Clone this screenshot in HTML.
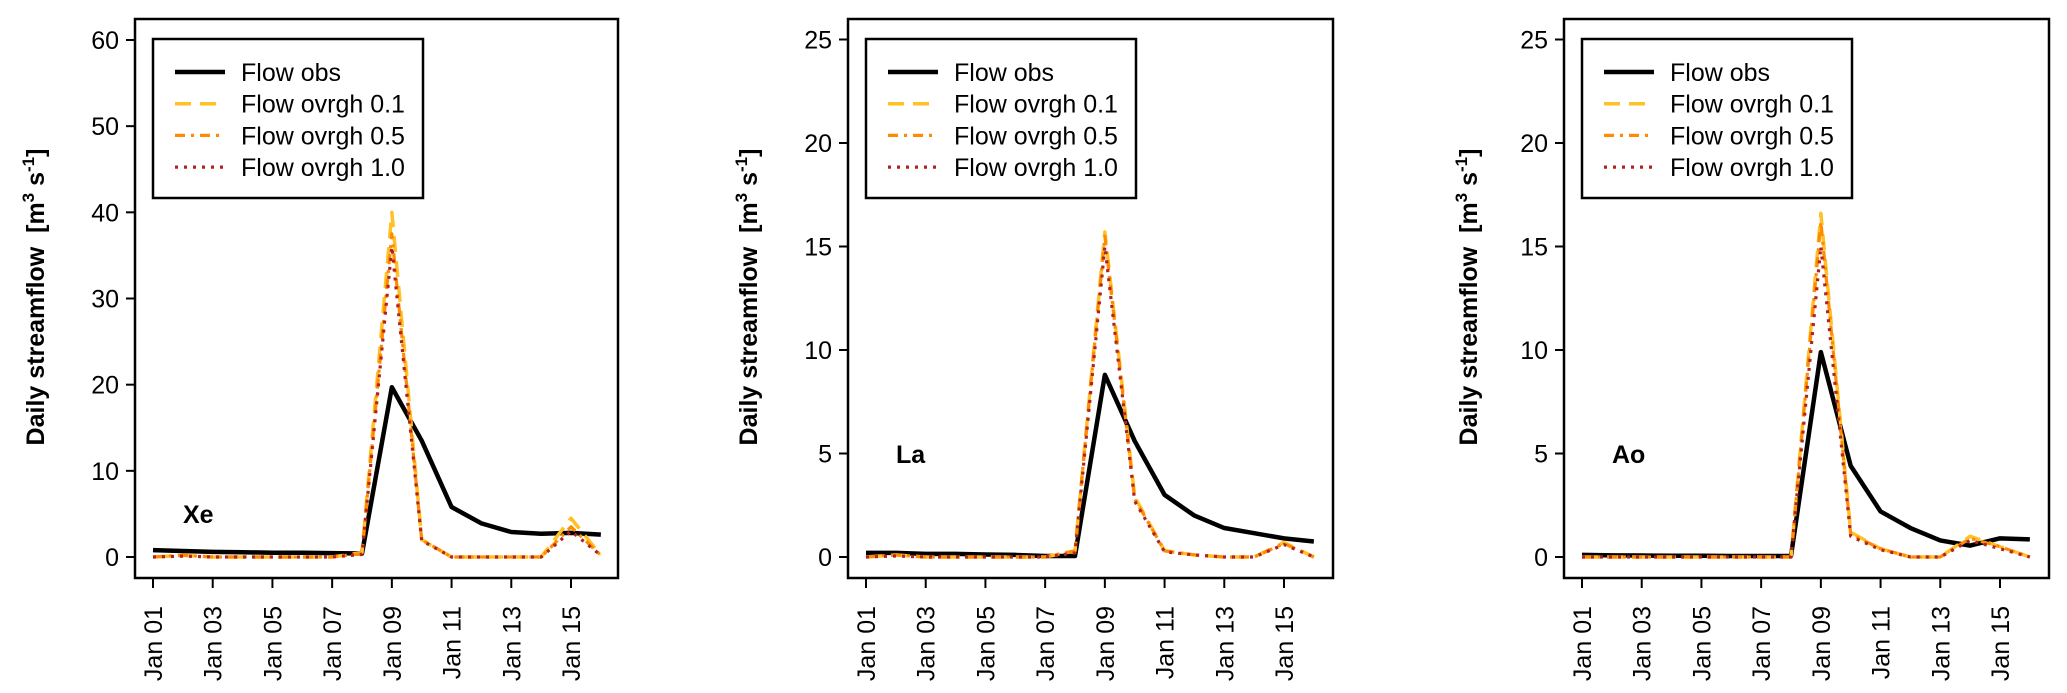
<!DOCTYPE html>
<html><head><meta charset="utf-8"><style>
html,body{margin:0;padding:0;background:#fff;}
svg{display:block;font-family:"Liberation Sans",Arial,sans-serif;}
</style></head><body>
<svg id="fig" width="2067" height="693" viewBox="0 0 2067 693" xmlns="http://www.w3.org/2000/svg"></svg>
<script>
const dayLabels = ["Jan 01","Jan 03","Jan 05","Jan 07","Jan 09","Jan 11","Jan 13","Jan 15"];
const days = [1,2,3,4,5,6,7,8,9,10,11,12,13,14,15,16];
const xeObs = [0.8,0.7,0.6,0.55,0.5,0.5,0.45,0.4,19.7,13.5,5.8,3.9,2.9,2.7,2.8,2.6];
const xeS01 = [0,0.2,0,0,0,0,0,0.5,40,2,0,0,0,0,4.5,0.2];
const xeS05 = [0,0.2,0,0,0,0,0,0.4,37.5,2,0,0,0,0,3.5,0.2];
const xeS10 = [0,0.1,0,0,0,0,0,0.3,36,1.9,0,0,0,0,3.0,0.2];
const laObs = [0.2,0.2,0.15,0.15,0.12,0.1,0.05,0.05,8.8,5.6,3.0,2.0,1.4,1.15,0.9,0.75];
const laS01 = [0,0.1,0,0,0,0,0,0.3,15.7,2.9,0.3,0.1,0,0,0.7,0];
const laS05 = [0,0.1,0,0,0,0,0,0.3,15.5,2.8,0.3,0.1,0,0,0.65,0];
const laS10 = [0,0.05,0,0,0,0,0,0.2,15.0,2.7,0.25,0.1,0,0,0.6,0];
const aoObs = [0.1,0.08,0.07,0.06,0.06,0.05,0.05,0.05,9.9,4.4,2.2,1.4,0.8,0.55,0.9,0.85];
const aoS01 = [0,0,0,0,0,0,0,0,16.6,1.2,0.4,0,0,1.0,0.5,0];
const aoS05 = [0,0,0,0,0,0,0,0,16.2,1.1,0.4,0,0,0.9,0.5,0];
const aoS10 = [0,0,0,0,0,0,0,0,15.0,1.0,0.35,0,0,0.8,0.4,0];
const xeTicks = [0,10,20,30,40,50,60];
const smallTicks = [0,5,10,15,20,25];

const NS="http://www.w3.org/2000/svg";
const svg=document.getElementById('fig');
function mk(tag,attrs,parent){const e=document.createElementNS(NS,tag);for(const k in attrs)e.setAttribute(k,attrs[k]);(parent||svg).appendChild(e);return e;}

const styles=[
 {name:'flow-obs',color:'#000',w:4.5,dash:''},
 {name:'flow-ovrgh-0-1',color:'#FFC125',w:3.5,dash:'16,9'},
 {name:'flow-ovrgh-0-5',color:'#FF8C00',w:3.2,dash:'10,6,3,6'},
 {name:'flow-ovrgh-1-0',color:'#B22222',w:3.2,dash:'3,6'}
];
const legendText=["Flow obs","Flow ovrgh 0.1","Flow ovrgh 0.5","Flow ovrgh 1.0"];

function panel(o){
  const g=mk('g',{});
  
  
  const x0=o.jan1, dx=(o.jan15-o.jan1)/14;
  const xs=d=>x0+(d-1)*dx;
  const y0=557, yt=o.yTopPix;
  const ys=v=>y0-(v/o.ymax)*(y0-yt);
  const box=mk('rect',{x:o.left,y:19,width:o.right-o.left,height:559,fill:'none',stroke:'#000','stroke-width':2.5},g);
  
  
  o.ticks.forEach(t=>{
    const y=ys(t);
    mk('line',{x1:o.left-9,x2:o.left,y1:y,y2:y,stroke:'#000','stroke-width':2},g);
    const tx=mk('text',{x:o.left-16,y:y+9,'text-anchor':'end','font-size':25,fill:'#000'},g);
    tx.textContent=t;
    
    
  });
  dayLabels.forEach((lab,i)=>{
    const x=xs(1+2*i);
    mk('line',{x1:x,x2:x,y1:578,y2:588,stroke:'#000','stroke-width':2},g);
    const tx=mk('text',{x:0,y:0,'text-anchor':'end','font-size':25,fill:'#000',transform:`translate(${x+9},606) rotate(-90)`},g);
    tx.textContent=lab;
    
    
  });
  const yl=mk('text',{x:0,y:0,'text-anchor':'middle','font-size':25,'font-weight':'bold',fill:'#000',transform:`translate(${o.ylabX},297) rotate(-90)`},g);
  yl.innerHTML='Daily streamflow&#160;&#160;[m<tspan dy="-10" font-size="17">3</tspan><tspan dy="10"> s</tspan><tspan dy="-10" font-size="17">-1</tspan><tspan dy="10">]</tspan>';
  
  
  o.series.forEach((arr,si)=>{
    const s=styles[si];
    const pts=arr.map((v,i)=>xs(days[i])+','+ys(v)).join(' ');
    const pl=mk('polyline',{points:pts,fill:'none',stroke:s.color,'stroke-width':s.w,'stroke-dasharray':s.dash,'stroke-linejoin':'round'},g);
    
    
  });
  const sl=mk('text',{x:o.lab[0],y:o.lab[1],'font-size':25,'font-weight':'bold',fill:'#000'},g);
  sl.textContent=o.id;
  
  
  const lx=o.left+18;
  const lg=mk('g',{},g);
  
  
  mk('rect',{x:lx,y:39,width:270,height:159,fill:'#fff',stroke:'#000','stroke-width':2.5},lg);
  legendText.forEach((t,i)=>{
    const y=72+i*31.7, s=styles[i];
    const e=mk('g',{},lg);
    
    
    mk('line',{x1:lx+22,x2:lx+72,y1:y,y2:y,stroke:s.color,'stroke-width':s.w,'stroke-dasharray':s.dash},e);
    const tx=mk('text',{x:lx+88,y:y+9,'font-size':25,fill:'#000'},e);
    tx.textContent=t;
  });
}
panel({id:'Xe',left:135,right:618,jan1:153,jan15:571,ymax:60,yTopPix:40,ticks:xeTicks,ylabX:44,lab:[183,523],series:[xeObs,xeS01,xeS05,xeS10]});
panel({id:'La',left:848,right:1333,jan1:866,jan15:1284,ymax:25,yTopPix:39.5,ticks:smallTicks,ylabX:757,lab:[896,463],series:[laObs,laS01,laS05,laS10]});
panel({id:'Ao',left:1564,right:2049,jan1:1582,jan15:2000,ymax:25,yTopPix:39.5,ticks:smallTicks,ylabX:1477,lab:[1612,463],series:[aoObs,aoS01,aoS05,aoS10]});
</script>
</body></html>
